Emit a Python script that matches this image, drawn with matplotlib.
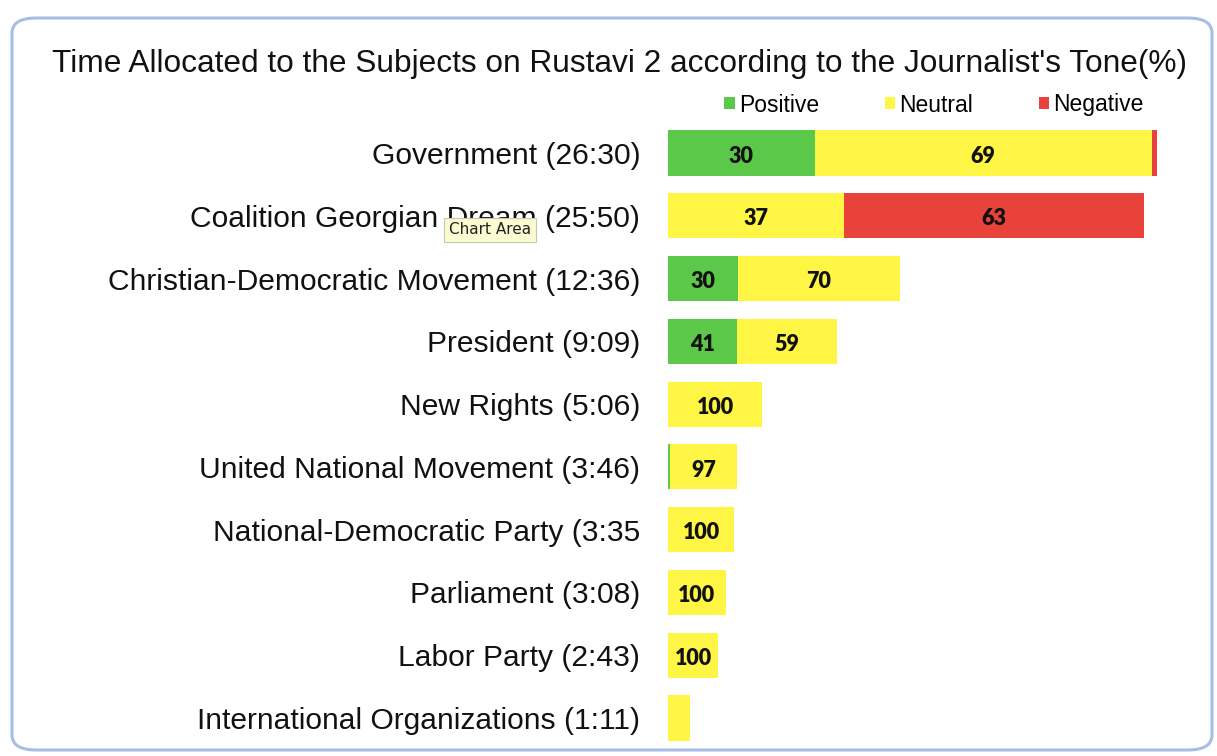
import matplotlib
matplotlib.use("Agg")
import matplotlib.pyplot as plt
import numpy as np
from matplotlib.patches import FancyBboxPatch

subjects = ['Government (26:30)', 'Coalition Georgian Dream (25:50)',
            'Christian-Democratic Movement (12:36)', 'President (9:09)',
            'New Rights (5:06)', 'United National Movement (3:46)',
            'National-Democratic Party (3:35', 'Parliament (3:08)',
            'Labor Party (2:43)', 'International Organizations (1:11)']
# airtime in minutes
minutes = [26 + 30/60, 25 + 50/60, 12 + 36/60, 9 + 9/60, 5 + 6/60,
           3 + 46/60, 3 + 35/60, 3 + 8/60, 2 + 43/60, 1 + 11/60]
positive = [30, 0, 30, 41, 0, 3, 0, 0, 0, 0]
neutral = [69, 37, 70, 59, 100, 97, 100, 100, 100, 100]
negative = [1, 63, 0, 0, 0, 0, 0, 0, 0, 0]

colors = {'Positive': '#5cc84a', 'Neutral': '#fff545', 'Negative': '#e8423a'}

plt.rcParams['font.family'] = ['Liberation Sans', 'DejaVu Sans']

fig = plt.figure(figsize=(12.17, 7.56), dpi=100)
fig.patch.set_facecolor('white')

# rounded chart-area frame
frame = FancyBboxPatch((12/1217, 6/756), 1200/1217, 732/756,
                       boxstyle='round,pad=0,rounding_size=0.02',
                       transform=fig.transFigure, facecolor='none',
                       edgecolor='#a7bde3', linewidth=2.2, zorder=-10)
fig.patches.append(frame)

ax = fig.add_axes([668/1217, 1 - 749.4/756, 507/1217, (749.4 - 121.6)/756])
ax.patch.set_alpha(0)

y = np.arange(len(subjects))
mins = np.array(minutes)
left = np.zeros(len(subjects))
for name, pct in [('Positive', positive), ('Neutral', neutral), ('Negative', negative)]:
    w = mins * np.array(pct) / 100
    ax.barh(y, w, left=left, height=0.72, color=colors[name], label=name)
    for i in range(len(subjects)):
        if pct[i] >= 10 and w[i] > 1.5:
            ax.text(left[i] + w[i] / 2, y[i] + 0.05, str(pct[i]), ha='center', va='center',
                    fontsize=15.5, fontweight='heavy', family='Lato', color='#111111')
    left = left + w

ax.set_xlim(0, 27.5)
ax.set_ylim(len(subjects) - 0.5, -0.5)
ax.set_yticks(y)
ax.set_yticklabels(subjects, fontsize=21.6, color='#111111')
ax.tick_params(axis='y', length=0, pad=20)
ax.set_xticks([])
for s in ax.spines.values():
    s.set_visible(False)

fig.text(620/1217, 1 - 64/756, "Time Allocated to the Subjects on Rustavi 2 according to the Journalist's Tone(%)",
         ha='center', va='center', fontsize=22.8, color='#111111')

fig.legend(loc='center', bbox_to_anchor=(934/1217, 1 - 105/756), ncol=3, frameon=False,
           fontsize=16.5, handlelength=0.45, handleheight=0.45, handletextpad=0.2,
           columnspacing=2.85)

# tooltip left over in the screenshot
fig.text(490/1217, 1 - 230/756, 'Chart Area', ha='center', va='center', fontsize=11,
         family='DejaVu Sans', color='#222222', zorder=5,
         bbox=dict(boxstyle='square,pad=0.3', facecolor='#fbfbd2', edgecolor='#c8c8b0', linewidth=0.8))

fig.savefig('out.png', dpi=100)
